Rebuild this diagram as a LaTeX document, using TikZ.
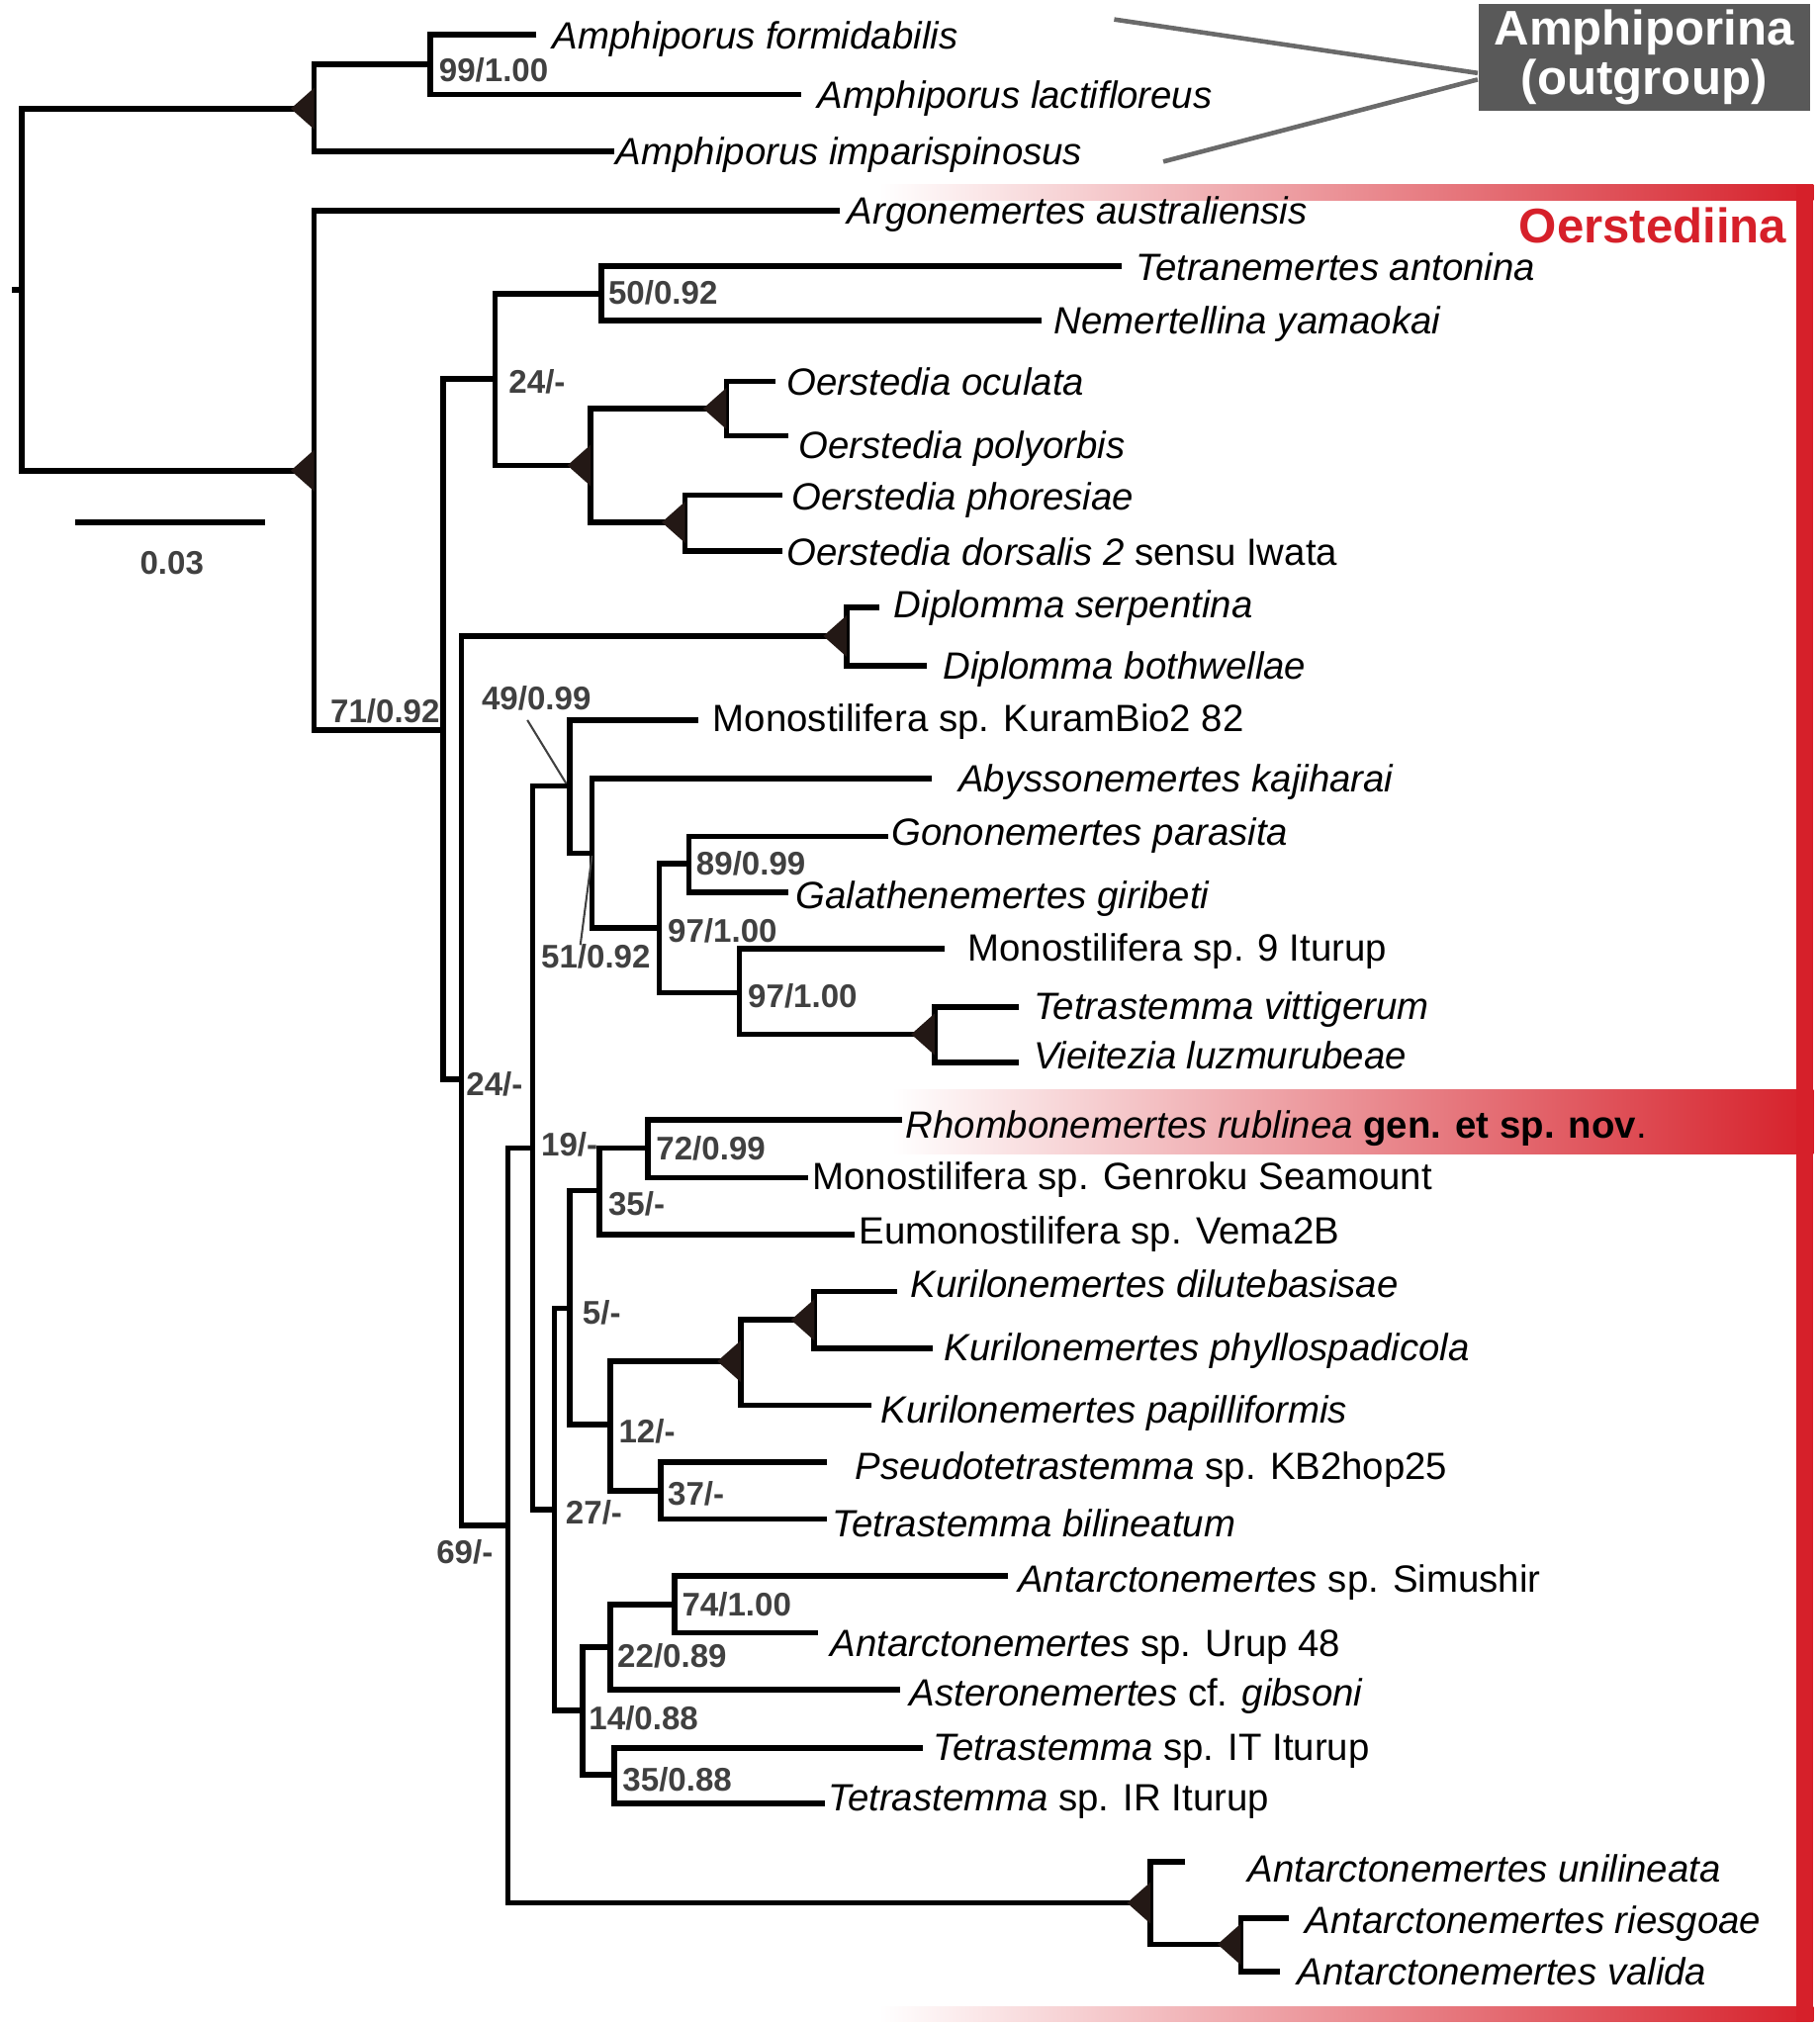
\documentclass[tikz,border=0pt]{standalone}
\usepackage{fontspec}
\setmainfont{Liberation Sans}
\usetikzlibrary{calc}
\definecolor{oered}{HTML}{D6202A}
\definecolor{oesalmon}{HTML}{E8927A}
\definecolor{boxgrey}{HTML}{595959}
\definecolor{supgrey}{HTML}{404040}
\definecolor{wedgedark}{HTML}{231815}
\tikzset{
  branch/.style={line width=1.25pt},
  taxon/.style={anchor=west,inner sep=0pt,text height=6pt,text depth=0pt,font=\fontsize{8.35}{10}\selectfont},
  support/.style={anchor=west,inner sep=0pt,text height=5.2pt,text depth=0pt,text=supgrey,font=\bfseries\fontsize{7.2}{8}\selectfont},
  leader/.style={draw=supgrey,line width=0.45pt},
  pointer/.style={draw=boxgrey!90,line width=1pt},
  fade/.style={left color=white,middle color=oesalmon,right color=oered},
  wedge/.pic={\fill[wedgedark] (-18,0) -- (0,-16) -- (0,16) -- cycle;}
}

\begin{document}
\begin{tikzpicture}[x=0.01cm,y=-0.01cm]
\useasboundingbox (0,0) rectangle (1408,1568);

% Oerstediina frame and highlight
\shade[fade] (680,143) rectangle (1403,155);
\shade[fade] (680,1552) rectangle (1403,1564);
\shade[fade] (690,843) rectangle (1403,893);
\fill[oered] (1390,143) rectangle (1403,1564);
\node[anchor=east,inner sep=0pt,text height=7.7pt,text depth=0pt,text=oered,font=\bfseries\fontsize{10.7}{12}\selectfont] (oerlab) at (1383,174) {Oerstediina};

% outgroup box
\node[fill=boxgrey,text=white,minimum width=2.56cm,minimum height=0.83cm,inner sep=0pt,align=center,font=\bfseries\fontsize{10.7}{8.9}\selectfont] (outg) at (1272,44.5) {Amphiporina\\(outgroup)};
\coordinate (og-a) at (862,15);
\coordinate (og-b) at (900,125);
\draw[pointer] (og-a) -- ($(outg.west)+(0,12)$);
\draw[pointer] (og-b) -- ($(outg.west)+(0,17)$);

% internal nodes
\coordinate (root) at (17,224);
\coordinate (amph) at (243,84);
\coordinate (amph2) at (333,50);
\coordinate (oer) at (243,364);
\coordinate (n71) at (343,565);
\coordinate (n24a) at (383,293);
\coordinate (n50) at (465,227);
\coordinate (oerst) at (457,360);
\coordinate (oc) at (562,316);
\coordinate (ph) at (530,404);
\coordinate (n24b) at (357,835);
\coordinate (dipl) at (655,492);
\coordinate (n69) at (393,1180);
\coordinate (n19) at (412,888);
\coordinate (n49) at (441,608);
\coordinate (n51) at (458,660);
\coordinate (n97a) at (510,718);
\coordinate (n89) at (533,668);
\coordinate (n97b) at (572,768);
\coordinate (tetv) at (723,800);
\coordinate (n27) at (429,1168);
\coordinate (n5) at (441,1012);
\coordinate (n35) at (464,921);
\coordinate (n72) at (501,888);
\coordinate (n12) at (472,1102);
\coordinate (kuri) at (573,1053);
\coordinate (kuri2) at (630,1021);
\coordinate (n37) at (511,1153);
\coordinate (n14) at (451,1323);
\coordinate (n22) at (472,1274);
\coordinate (n74) at (522,1241);
\coordinate (n35b) at (475,1373);
\coordinate (antu) at (890,1472);
\coordinate (antv) at (960,1504);

% tips
\coordinate (formid-t) at (415,27);
\coordinate (lacti-t) at (620,73);
\coordinate (impar-t) at (475,117);
\coordinate (argo-t) at (650,163);
\coordinate (tetra-t) at (868,206);
\coordinate (nemer-t) at (806,248);
\coordinate (ocul-t) at (600,295);
\coordinate (polyo-t) at (610,337);
\coordinate (phore-t) at (605,383);
\coordinate (dorsa-t) at (605,426);
\coordinate (serp-t) at (680,470);
\coordinate (both-t) at (717,515);
\coordinate (kuram-t) at (540,557);
\coordinate (abyss-t) at (721,602);
\coordinate (gono-t) at (687,647);
\coordinate (gala-t) at (610,690);
\coordinate (mono9-t) at (731,734);
\coordinate (vitt-t) at (788,779);
\coordinate (vieit-t) at (788,822);
\coordinate (rhombo-t) at (698,866);
\coordinate (genro-t) at (625,911);
\coordinate (vema-t) at (661,955);
\coordinate (dilut-t) at (694,999);
\coordinate (phyllo-t) at (722,1043);
\coordinate (papil-t) at (674,1087);
\coordinate (pseudo-t) at (640,1131);
\coordinate (bilin-t) at (640,1175);
\coordinate (simu-t) at (780,1219);
\coordinate (urup-t) at (633,1263);
\coordinate (aster-t) at (696,1307);
\coordinate (itit-t) at (714,1352);
\coordinate (irit-t) at (638,1395);
\coordinate (unil-t) at (917,1440);
\coordinate (ries-t) at (997,1484);
\coordinate (valid-t) at (990,1525);

% branches
\draw[branch] (root) -- ++(-8,0);
\draw[branch] (amph) -| (root) |- (oer);
\draw[branch] (amph2) -| (amph) |- (impar-t);
\draw[branch] (formid-t) -| (amph2) |- (lacti-t);
\draw[branch] (argo-t) -| (oer) |- (n71);
\draw[branch] (n24a) -| (n71) |- (n24b);
\draw[branch] (n50) -| (n24a) |- (oerst);
\draw[branch] (tetra-t) -| (n50) |- (nemer-t);
\draw[branch] (oc) -| (oerst) |- (ph);
\draw[branch] (ocul-t) -| (oc) |- (polyo-t);
\draw[branch] (phore-t) -| (ph) |- (dorsa-t);
\draw[branch] (dipl) -| (n24b) |- (n69);
\draw[branch] (serp-t) -| (dipl) |- (both-t);
\draw[branch] (n19) -| (n69) |- (antu);
\draw[branch] (n49) -| (n19) |- (n27);
\draw[branch] (kuram-t) -| (n49) |- (n51);
\draw[branch] (abyss-t) -| (n51) |- (n97a);
\draw[branch] (n89) -| (n97a) |- (n97b);
\draw[branch] (gono-t) -| (n89) |- (gala-t);
\draw[branch] (mono9-t) -| (n97b) |- (tetv);
\draw[branch] (vitt-t) -| (tetv) |- (vieit-t);
\draw[branch] (n5) -| (n27) |- (n14);
\draw[branch] (n35) -| (n5) |- (n12);
\draw[branch] (n72) -| (n35) |- (vema-t);
\draw[branch] (rhombo-t) -| (n72) |- (genro-t);
\draw[branch] (kuri) -| (n12) |- (n37);
\draw[branch] (kuri2) -| (kuri) |- (papil-t);
\draw[branch] (dilut-t) -| (kuri2) |- (phyllo-t);
\draw[branch] (pseudo-t) -| (n37) |- (bilin-t);
\draw[branch] (n22) -| (n14) |- (n35b);
\draw[branch] (n74) -| (n22) |- (aster-t);
\draw[branch] (simu-t) -| (n74) |- (urup-t);
\draw[branch] (itit-t) -| (n35b) |- (irit-t);
\draw[branch] (unil-t) -| (antu) |- (antv);
\draw[branch] (ries-t) -| (antv) |- (valid-t);

% fully supported nodes
\pic at (amph) {wedge};
\pic at (oer) {wedge};
\pic at (oerst) {wedge};
\pic at (oc) {wedge};
\pic at (ph) {wedge};
\pic at (dipl) {wedge};
\pic at (tetv) {wedge};
\pic at (kuri) {wedge};
\pic at (kuri2) {wedge};
\pic at (antu) {wedge};
\pic at (antv) {wedge};

% taxa
\node[taxon] (formid) at (427,27) {\textit{Amphiporus formidabilis}};
\node[taxon] (lacti) at (632,73) {\textit{Amphiporus lactifloreus}};
\node[taxon] (impar) at (476,117) {\textit{Amphiporus imparispinosus}};
\node[taxon] (argo) at (655,163) {\textit{Argonemertes australiensis}};
\node[taxon] (tetra) at (878,206) {\textit{Tetranemertes antonina}};
\node[taxon] (nemer) at (815,248) {\textit{Nemertellina yamaokai}};
\node[taxon] (ocul) at (608,295) {\textit{Oerstedia oculata}};
\node[taxon] (polyo) at (617,344) {\textit{Oerstedia polyorbis}};
\node[taxon] (phore) at (612,384) {\textit{Oerstedia phoresiae}};
\node[taxon] (dorsa) at (608,427) {\textit{Oerstedia dorsalis 2} sensu Iwata};
\node[taxon] (serp) at (691,467) {\textit{Diplomma serpentina}};
\node[taxon] (both) at (729,515) {\textit{Diplomma bothwellae}};
\node[taxon] (kuram) at (551,555) {Monostilifera sp. KuramBio2 82};
\node[taxon] (abyss) at (741,602) {\textit{Abyssonemertes kajiharai}};
\node[taxon] (gono) at (689,643) {\textit{Gononemertes parasita}};
\node[taxon] (gala) at (615,692) {\textit{Galathenemertes giribeti}};
\node[taxon] (mono9) at (748,733) {Monostilifera sp. 9 Iturup};
\node[taxon] (vitt) at (799,778) {\textit{Tetrastemma vittigerum}};
\node[taxon] (vieit) at (799,816) {\textit{Vieitezia luzmurubeae}};
\node[taxon] (rhombo) at (700,870) {\textit{Rhombonemertes rublinea} \textbf{gen. et sp. nov}.};
\node[taxon] (genro) at (628,910) {Monostilifera sp. Genroku Seamount};
\node[taxon] (vema) at (664,952) {Eumonostilifera sp. Vema2B};
\node[taxon] (dilut) at (704,993) {\textit{Kurilonemertes dilutebasisae}};
\node[taxon] (phyllo) at (730,1042) {\textit{Kurilonemertes phyllospadicola}};
\node[taxon] (papil) at (681,1090) {\textit{Kurilonemertes papilliformis}};
\node[taxon] (pseudo) at (661,1134) {\textit{Pseudotetrastemma} sp. KB2hop25};
\node[taxon] (bilin) at (643,1178) {\textit{Tetrastemma bilineatum}};
\node[taxon] (simu) at (787,1221) {\textit{Antarctonemertes} sp. Simushir};
\node[taxon] (urup) at (642,1271) {\textit{Antarctonemertes} sp. Urup 48};
\node[taxon] (aster) at (703,1309) {\textit{Asteronemertes} cf. \textit{gibsoni}};
\node[taxon] (itit) at (721,1351) {\textit{Tetrastemma} sp. IT Iturup};
\node[taxon] (irit) at (640,1390) {\textit{Tetrastemma} sp. IR Iturup};
\node[taxon] (unil) at (965,1445) {\textit{Antarctonemertes unilineata}};
\node[taxon] (ries) at (1009,1485) {\textit{Antarctonemertes riesgoae}};
\node[taxon] (valid) at (1003,1525) {\textit{Antarctonemertes valida}};

% support values
\node[support] (s99) at (339,54) {99/1.00};
\node[support] (s50) at (470,226) {50/0.92};
\node[support] (s24a) at (393,295) {24/-};
\node[support] (s71) at (255,550) {71/0.92};
\node[support] (s49) at (372,540) {49/0.99};
\node[support] (s89) at (538,668) {89/0.99};
\node[support] (s97a) at (516,720) {97/1.00};
\node[support] (s51) at (418,740) {51/0.92};
\node[support] (s97b) at (578,770) {97/1.00};
\node[support] (s24b) at (360,838) {24/-};
\node[support] (s19) at (418,885) {19/-};
\node[support] (s72) at (507,888) {72/0.99};
\node[support] (s35) at (470,931) {35/-};
\node[support] (s5) at (450,1015) {5/-};
\node[support] (s12) at (478,1107) {12/-};
\node[support] (s37) at (516,1155) {37/-};
\node[support] (s27) at (437,1170) {27/-};
\node[support] (s69) at (337,1200) {69/-};
\node[support] (s74) at (527,1241) {74/1.00};
\node[support] (s22) at (477,1281) {22/0.89};
\node[support] (s14) at (455,1329) {14/0.88};
\node[support] (s35b) at (481,1376) {35/0.88};
\draw[leader] (408,557) -- (438,606);
\draw[leader] (449,731) -- (458,662);

% scale bar
\coordinate (sb-l) at (58,404);
\coordinate (sb-r) at (205,404);
\draw[branch] (sb-l) -- (sb-r);
\node[support,anchor=center] (sblab) at (133,435) {0.03};

\end{tikzpicture}
\end{document}
